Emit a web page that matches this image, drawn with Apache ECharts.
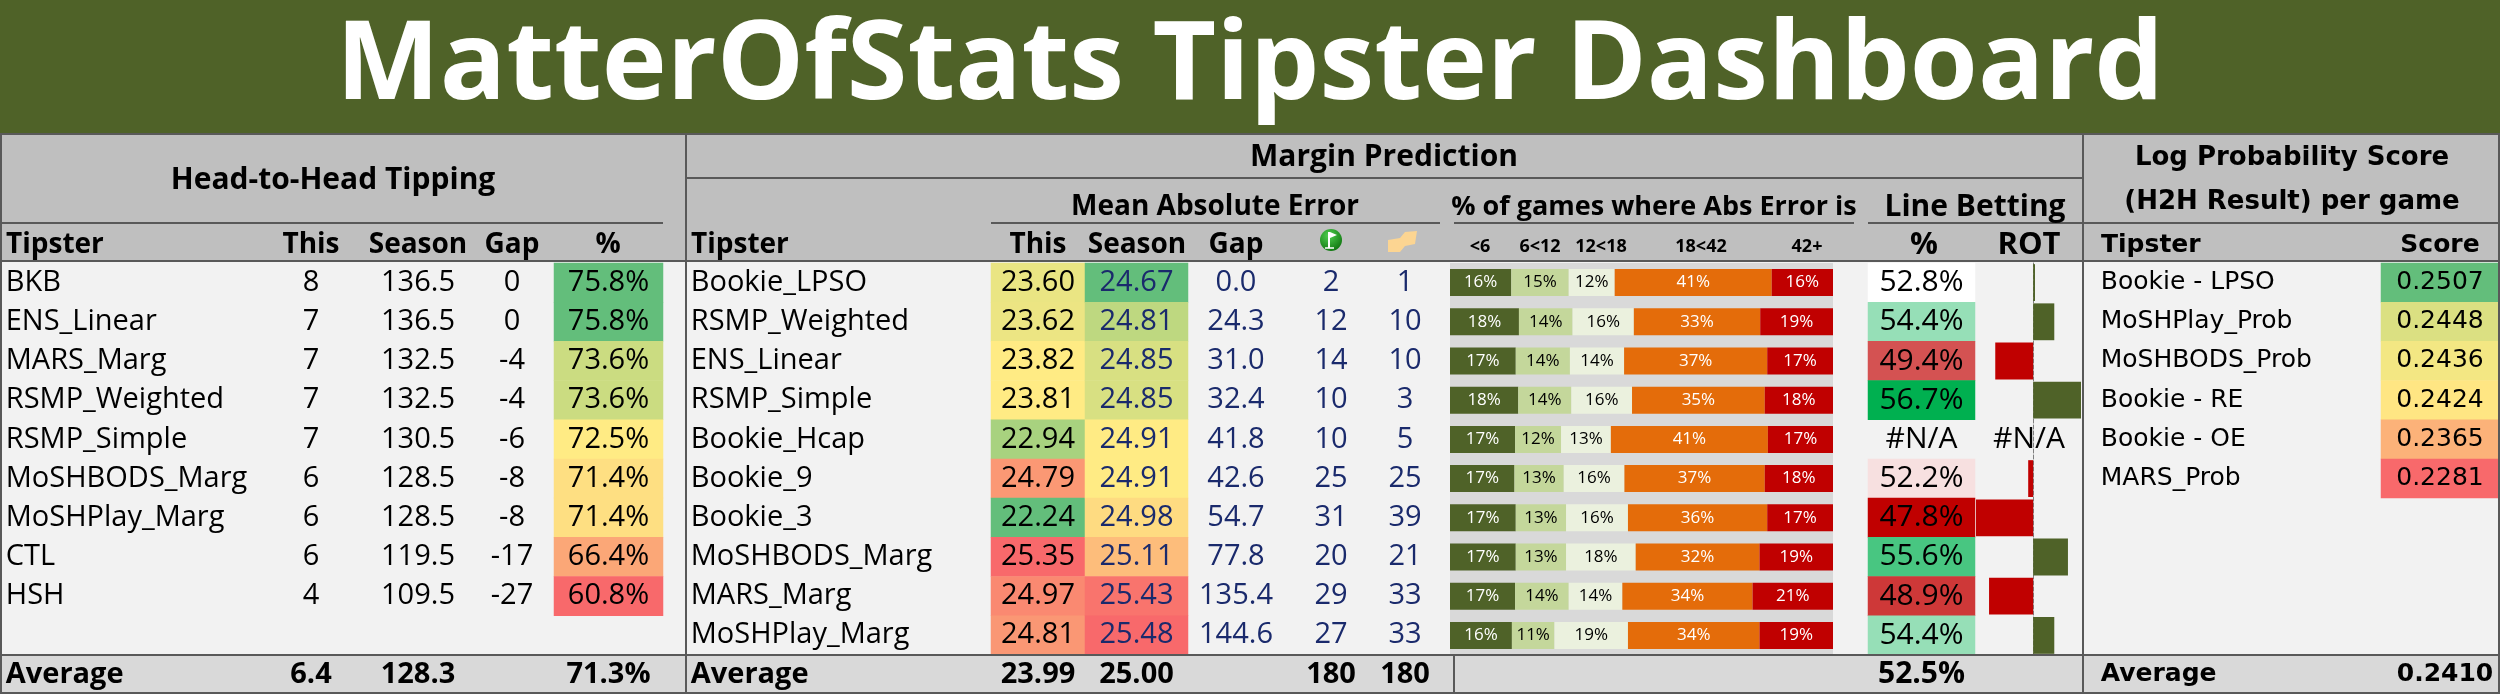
<!DOCTYPE html>
<html>
<head>
<meta charset="utf-8">
<script src="https://cdn.jsdelivr.net/npm/echarts@6/dist/echarts.min.js"></script>
<style>
  html, body { margin: 0; padding: 0; background: #f2f2f2; }
  #main { width: 2500px; height: 694px; }
</style>
</head>
<body>
<div id="main"></div>
<script>
// ---- data: head-to-head tipping ----
const h2hTipsters = ["BKB", "ENS_Linear", "MARS_Marg", "RSMP_Weighted", "RSMP_Simple",
  "MoSHBODS_Marg", "MoSHPlay_Marg", "CTL", "HSH"];
const h2hThis = [8, 7, 7, 7, 7, 6, 6, 6, 4];
const h2hSeason = [136.5, 136.5, 132.5, 132.5, 130.5, 128.5, 128.5, 119.5, 109.5];
const h2hGap = [0, 0, -4, -4, -6, -8, -8, -17, -27];
const h2hPct = [75.8, 75.8, 73.6, 73.6, 72.5, 71.4, 71.4, 66.4, 60.8];
const h2hAvg = { this: 6.4, season: 128.3, pct: 71.3 };

// ---- data: margin prediction ----
const marTipsters = ["Bookie_LPSO", "RSMP_Weighted", "ENS_Linear", "RSMP_Simple", "Bookie_Hcap",
  "Bookie_9", "Bookie_3", "MoSHBODS_Marg", "MARS_Marg", "MoSHPlay_Marg"];
const maeThis = [23.60, 23.62, 23.82, 23.81, 22.94, 24.79, 22.24, 25.35, 24.97, 24.81];
const maeSeason = [24.67, 24.81, 24.85, 24.85, 24.91, 24.91, 24.98, 25.11, 25.43, 25.48];
const maeGap = [0.0, 24.3, 31.0, 32.4, 41.8, 42.6, 54.7, 77.8, 135.4, 144.6];
const bestCount = [2, 12, 14, 10, 10, 25, 31, 20, 29, 27];
const worstCount = [1, 10, 10, 3, 5, 25, 39, 21, 33, 33];
const marAvg = { this: 23.99, season: 25.00, best: 180, worst: 180 };

const errBuckets = ["<6", "6<12", "12<18", "18<42", "42+"];
const errLt6 = [16, 18, 17, 18, 17, 17, 17, 17, 17, 16];
const err6to12 = [15, 14, 14, 14, 12, 13, 13, 13, 14, 11];
const err12to18 = [12, 16, 14, 16, 13, 16, 16, 18, 14, 19];
const err18to42 = [41, 33, 37, 35, 41, 37, 36, 32, 34, 34];
const err42plus = [16, 19, 17, 18, 17, 18, 17, 19, 21, 19];

const linePct = [52.8, 54.4, 49.4, 56.7, null, 52.2, 47.8, 55.6, 48.9, 54.4];
const lineRot = [0.003, 0.034, -0.061, 0.077, null, -0.008, -0.092, 0.056, -0.071, 0.034];
const lineAvgPct = 52.5;

// ---- data: log probability score ----
const lpsTipsters = ["Bookie - LPSO", "MoSHPlay_Prob", "MoSHBODS_Prob", "Bookie - RE", "Bookie - OE", "MARS_Prob"];
const lpsScore = [0.2507, 0.2448, 0.2436, 0.2424, 0.2365, 0.2281];
const lpsAvg = 0.2410;

// ---- look ----
const FONT = "Open Sans";
const LPS_FONT = "DejaVu Sans";
const NAVY = "#1a2a6c";
const LINE = "#595959";
const GREEN = "#63BE7B", YELLOW = "#FFEB84", RED = "#F8696B";
const TOP = 263, ROW_H = 39.2, ROWS = 11;

function rgb(h) { return [1, 3, 5].map(i => parseInt(h.substr(i, 2), 16)); }
function mix(a, b, t) {
  const A = rgb(a), B = rgb(b);
  return "rgb(" + A.map((v, i) => Math.round(v + (B[i] - v) * t)).join(",") + ")";
}
function median(v) {
  const s = v.slice().sort((a, b) => a - b), n = s.length;
  return n % 2 ? s[(n - 1) / 2] : (s[n / 2 - 1] + s[n / 2]) / 2;
}
// excel style 3 colour scale: min / 50th percentile / max
function scale3(vals, lowC, midC, highC) {
  const v = vals.filter(x => x != null);
  const lo = Math.min(...v), hi = Math.max(...v), md = median(v);
  return x => x <= md ? mix(lowC, midC, md === lo ? 1 : (x - lo) / (md - lo))
                      : mix(midC, highC, (x - md) / (hi - md));
}

const grids = [], xAxes = [], yAxes = [], series = [];
const rowKeys = Array.from({ length: ROWS }, (_, i) => i);

// one table column = one grid with a single category column and row categories
function column(o) {
  const gi = grids.length;
  grids.push({ left: o.left, width: o.width, top: TOP, height: ROW_H * ROWS });
  xAxes.push({ type: "category", gridIndex: gi, data: ["c"], show: false });
  yAxes.push({ type: "category", gridIndex: gi, data: rowKeys, inverse: true, show: false });
  const clear = "rgba(0,0,0,0)";
  const fmt = o.fmt || String;
  const data = [], labels = [];
  (o.values || o.texts).forEach((v, r) => {
    if (o.texts) { data.push({ value: [0, r, 0], itemStyle: { color: clear } }); labels.push(v); return; }
    if (v == null) { data.push({ value: [0, r, 0], itemStyle: { color: clear } }); labels.push("#N/A"); return; }
    data.push({ value: [0, r, v], itemStyle: { color: o.colorOf ? o.colorOf(v) : clear } });
    labels.push(fmt(v));
  });
  if (o.avg != null) {
    const isText = typeof o.avg === "string";
    data.push({
      value: [0, ROWS - 1, isText ? 0 : o.avg],
      itemStyle: { color: clear },
      label: Object.assign({ fontWeight: "bold", color: "#000" }, o.avgLabel || {})
    });
    labels.push(isText ? o.avg : (o.avgFmt || fmt)(o.avg));
  }
  series.push({
    type: "heatmap", xAxisIndex: gi, yAxisIndex: gi, data,
    emphasis: { disabled: true },
    label: Object.assign({
      show: true, position: "inside",
      fontFamily: FONT, fontSize: 29, color: "#000",
      formatter: p => labels[p.dataIndex]
    }, o.label || {})
  });
}

const f1 = v => v.toFixed(1), f2 = v => v.toFixed(2), pct1 = v => v.toFixed(1) + "%";

// head-to-head
column({ left: 0, width: 270, texts: h2hTipsters, avg: "Average", label: { position: "insideLeft", distance: 6 } });
column({ left: 270, width: 82, values: h2hThis, avg: h2hAvg.this, avgFmt: f1 });
column({ left: 370, width: 96, values: h2hSeason, avg: h2hAvg.season, fmt: f1 });
column({ left: 470, width: 84, values: h2hGap });
column({ left: 554, width: 109, values: h2hPct, avg: h2hAvg.pct, fmt: pct1,
  colorOf: scale3(h2hPct, RED, YELLOW, GREEN) });

// margin prediction
column({ left: 686, width: 305, texts: marTipsters, avg: "Average", label: { position: "insideLeft", distance: 5 } });
column({ left: 991, width: 94, values: maeThis, avg: marAvg.this, fmt: f2,
  colorOf: scale3(maeThis, GREEN, YELLOW, RED) });
column({ left: 1085, width: 103, values: maeSeason, avg: marAvg.season, fmt: f2,
  colorOf: scale3(maeSeason, GREEN, YELLOW, RED), label: { color: NAVY } });
column({ left: 1190, width: 92, values: maeGap, fmt: f1, label: { color: NAVY } });
column({ left: 1290, width: 82, values: bestCount, avg: marAvg.best, label: { color: NAVY } });
column({ left: 1372, width: 66, values: worstCount, avg: marAvg.worst, label: { color: NAVY } });
column({ left: 1868, width: 107, values: linePct, avg: lineAvgPct, fmt: pct1,
  colorOf: scale3(linePct, "#C00000", "#FFFFFF", "#00B050"), label: { fontSize: 30 } });

// log probability score
column({ left: 2083, width: 298, texts: lpsTipsters, avg: "Average",
  label: { position: "insideLeft", distance: 18, fontFamily: LPS_FONT, fontSize: 25 } });
column({ left: 2381, width: 118, values: lpsScore, avg: lpsAvg, fmt: v => v.toFixed(4),
  colorOf: scale3(lpsScore, RED, YELLOW, GREEN),
  label: { fontFamily: LPS_FONT, fontSize: 25 },
  avgLabel: { position: "insideRight", distance: 6 } });

// stacked abs-error distribution
const bucketRows = [errLt6, err6to12, err12to18, err18to42, err42plus];
const rowTotals = marTipsters.map((_, r) => bucketRows.reduce((s, b) => s + b[r], 0));
const bucketColors = ["#4f6228", "#c4d79b", "#ebf1de", "#e46c0a", "#c00000"];
const bucketText = ["#fff", "#000", "#000", "#fff", "#fff"];
{
  const gi = grids.length;
  grids.push({ left: 1450, width: 383, top: TOP, height: ROW_H * 10, show: true,
    backgroundColor: "#d9d9d9", borderWidth: 0 });
  xAxes.push({ type: "value", gridIndex: gi, min: 0, max: 100, show: false });
  yAxes.push({ type: "category", gridIndex: gi, data: marTipsters, inverse: true, show: false });
  bucketRows.forEach((b, k) => {
    series.push({
      type: "bar", name: errBuckets[k], xAxisIndex: gi, yAxisIndex: gi, stack: "err",
      barWidth: "69%", itemStyle: { color: bucketColors[k] },
      data: b.map((v, r) => v / rowTotals[r] * 100),
      emphasis: { disabled: true },
      label: { show: true, position: "inside", fontFamily: FONT, fontSize: 17,
        color: bucketText[k], formatter: p => b[p.dataIndex] + "%" }
    });
  });
}

// line betting return on turnover
{
  const gi = grids.length;
  grids.push({ left: 1976, width: 105, top: TOP, height: ROW_H * 10 });
  xAxes.push({ type: "value", gridIndex: gi, min: -0.092, max: 0.077, show: false });
  yAxes.push({ type: "category", gridIndex: gi, data: marTipsters, inverse: true,
    axisLine: { show: true, onZero: true, lineStyle: { color: "#7f7f7f", type: "dashed", width: 1 } },
    axisTick: { show: false }, axisLabel: { show: false }, splitLine: { show: false } });
  series.push({
    type: "bar", xAxisIndex: gi, yAxisIndex: gi, barWidth: "94%",
    data: lineRot, emphasis: { disabled: true },
    itemStyle: { color: p => p.value >= 0 ? "#4f6228" : "#c00000" }
  });
}
// "#N/A" where no return on turnover exists
column({ left: 1976, width: 106, texts: lineRot.map(v => v == null ? "#N/A" : ""), label: { fontSize: 30 } });

// ---- frame, headings, rules ----
const g = [];
function rect(x, y, w, h, fill) {
  g.push({ type: "rect", z: -10, silent: true, shape: { x, y, width: w, height: h }, style: { fill } });
}
function hline(x1, x2, y) {
  g.push({ type: "line", z: 50, silent: true, shape: { x1, y1: y, x2, y2: y }, style: { stroke: LINE, lineWidth: 2 } });
}
function vline(x, y1, y2) {
  g.push({ type: "line", z: 50, silent: true, shape: { x1: x, y1, x2: x, y2 }, style: { stroke: LINE, lineWidth: 2 } });
}
function text(x, y, str, size, opt) {
  g.push({ type: "text", z: 60, silent: true, x, y, style: Object.assign({
    text: str, fill: "#000", fontFamily: FONT, fontWeight: "bold", fontSize: size,
    align: "center", verticalAlign: "middle" }, opt || {}) });
}

rect(0, 0, 2500, 134, "#4f6228");
rect(0, 134, 2500, 128, "#bfbfbf");
rect(0, 655, 2500, 39, "#d9d9d9");

text(1250, 68, "MatterOfStats Tipster Dashboard", 110, { fill: "#fff" });

text(333, 180, "Head-to-Head Tipping", 30);
text(1384, 157, "Margin Prediction", 30);
text(2292, 158, "Log Probability Score", 26, { fontFamily: LPS_FONT });
text(2292, 202, "(H2H Result) per game", 26, { fontFamily: LPS_FONT });
text(1215, 207, "Mean Absolute Error", 28);
text(1654, 207, "% of games where Abs Error is", 27);
text(1975, 207, "Line Betting", 30);

text(6, 245, "Tipster", 28, { align: "left" });
text(311, 245, "This", 28);
text(418, 245, "Season", 28);
text(512, 245, "Gap", 28);
text(608, 245, "%", 28);
text(691, 245, "Tipster", 28, { align: "left" });
text(1038, 245, "This", 28);
text(1137, 245, "Season", 28);
text(1236, 245, "Gap", 28);
[1480, 1540, 1601, 1701, 1807].forEach((x, k) => text(x, 247, errBuckets[k], 18));
text(1924, 245, "%", 31);
text(2029, 245, "ROT", 31);
text(2101, 245, "Tipster", 25, { align: "left", fontFamily: LPS_FONT });
text(2440, 245, "Score", 25, { fontFamily: LPS_FONT });

// small header icons
g.push({ type: "circle", z: 60, silent: true, shape: { cx: 1331, cy: 240, r: 11 },
  style: { fill: new echarts.graphic.RadialGradient(0.4, 0.3, 0.8, [
    { offset: 0, color: "#4fcf4f" }, { offset: 1, color: "#0b6e0b" }]) } });
g.push({ type: "polyline", z: 61, silent: true, shape: { points: [[1329, 248], [1329, 232]] },
  style: { stroke: "#fff", lineWidth: 2 } });
g.push({ type: "polygon", z: 61, silent: true, shape: { points: [[1330, 232], [1337, 235], [1330, 238]] },
  style: { fill: "#fff" } });
g.push({ type: "polyline", z: 61, silent: true, shape: { points: [[1325, 248], [1334, 248]] },
  style: { stroke: "#fff", lineWidth: 1.5 } });
g.push({ type: "polygon", z: 60, silent: true,
  shape: { points: [[1388, 240], [1400, 238], [1405, 232], [1417, 231], [1415, 244], [1405, 246], [1400, 252], [1388, 252]] },
  style: { fill: "#fcd592" } });

hline(0, 2500, 134);
hline(686, 2083, 178);
hline(0, 663, 223);
hline(991, 1440, 223);
hline(1454, 1854, 223);
hline(1868, 2500, 223);
hline(0, 2500, 261);
hline(0, 2500, 655);
hline(0, 2500, 693);
vline(1, 134, 694);
vline(686, 134, 694);
vline(2083, 134, 694);
vline(2499, 134, 694);
vline(1454, 655, 694);

const chart = echarts.init(document.getElementById("main"));
chart.setOption({
  backgroundColor: "#f2f2f2",
  animation: false,
  grid: grids,
  xAxis: xAxes,
  yAxis: yAxes,
  series: series,
  graphic: { elements: g }
});
</script>
</body>
</html>
